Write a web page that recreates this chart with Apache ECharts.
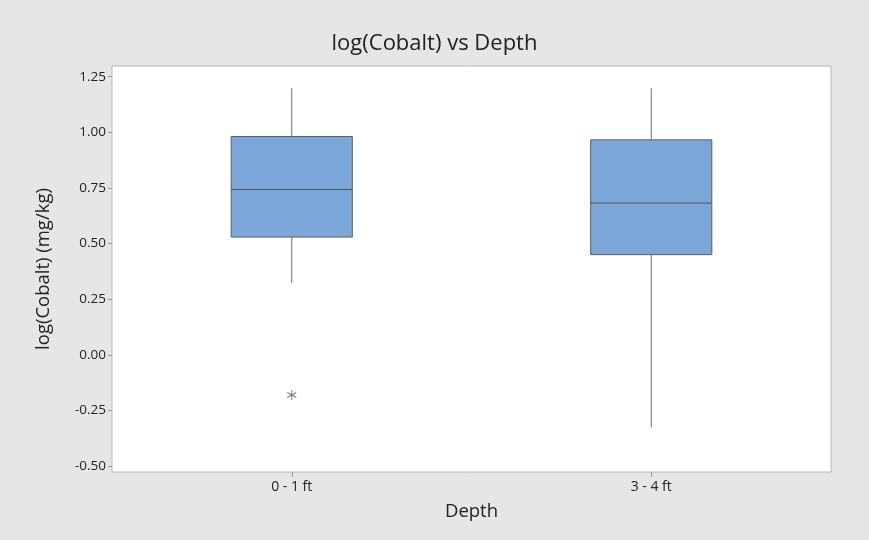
<!DOCTYPE html>
<html>
<head>
<meta charset="utf-8">
<script src="https://cdn.jsdelivr.net/npm/echarts@6/dist/echarts.min.js"></script>
<style>
html,body{margin:0;padding:0;background:#e6e6e6;}
#chart{width:869px;height:540px;}
</style>
</head>
<body>
<div id="chart"></div>
<script>
var categories = ['0 - 1 ft', '3 - 4 ft'];
var whiskerLow = [0.323, -0.327];
var q1 = [0.529, 0.450];
var median = [0.743, 0.682];
var q3 = [0.981, 0.966];
var whiskerHigh = [1.198, 1.198];
var outliers = [['0 - 1 ft', -0.181]];
var yTicks = [-0.5, -0.25, 0, 0.25, 0.5, 0.75, 1.0, 1.25];

var FONT = "'Open Sans', sans-serif";
var boxData = categories.map(function (c, i) {
  return [i, whiskerLow[i], q1[i], median[i], q3[i], whiskerHigh[i]];
});

var chart = echarts.init(document.getElementById('chart'), null, {renderer: 'canvas'});
chart.setOption({
  backgroundColor: '#e6e6e6',
  animation: false,
  title: {
    text: 'log(Cobalt) vs Depth',
    left: 'center',
    top: 28,
    textStyle: {fontFamily: FONT, fontSize: 22, fontWeight: 'normal', color: '#222'}
  },
  grid: {
    left: 112, top: 66, right: 38, bottom: 68,
    show: true, backgroundColor: '#ffffff', borderColor: '#b8b8b8', borderWidth: 1
  },
  xAxis: {
    type: 'category',
    data: categories,
    name: 'Depth',
    nameLocation: 'middle',
    nameGap: 30,
    nameTextStyle: {fontFamily: FONT, fontSize: 18.5, color: '#222'},
    axisLine: {show: false, onZero: false},
    axisTick: {show: true, alignWithLabel: true, length: 5, lineStyle: {color: '#999'}},
    axisLabel: {fontFamily: FONT, fontSize: 14, color: '#222', margin: 8},
    splitLine: {show: false}
  },
  yAxis: {
    type: 'value',
    min: -0.527,
    max: 1.298,
    name: 'log(Cobalt) (mg/kg)',
    nameLocation: 'middle',
    nameGap: 59,
    nameTextStyle: {fontFamily: FONT, fontSize: 18.5, color: '#222'},
    axisLine: {show: false, onZero: false},
    axisTick: {show: true, length: 4, lineStyle: {color: '#999'}, customValues: yTicks},
    axisLabel: {
      fontFamily: FONT, fontSize: 13.5, color: '#222', margin: 6,
      customValues: yTicks,
      formatter: function (v) { return v.toFixed(2); }
    },
    splitLine: {show: false}
  },
  series: [
    {
      type: 'custom',
      data: boxData,
      renderItem: function (params, api) {
        var idx = api.value(0);
        var pLow = api.coord([idx, api.value(1)]);
        var pQ1 = api.coord([idx, api.value(2)]);
        var pMed = api.coord([idx, api.value(3)]);
        var pQ3 = api.coord([idx, api.value(4)]);
        var pHigh = api.coord([idx, api.value(5)]);
        var bw = api.size([1, 0])[0] * 0.337;
        var x = pQ1[0];
        var wStyle = {stroke: '#6e6e6e', lineWidth: 1};
        return {
          type: 'group',
          children: [
            {type: 'line', shape: {x1: x, y1: pHigh[1], x2: x, y2: pQ3[1]}, style: wStyle},
            {type: 'line', shape: {x1: x, y1: pQ1[1], x2: x, y2: pLow[1]}, style: wStyle},
            {type: 'rect', shape: {x: x - bw / 2, y: pQ3[1], width: bw, height: pQ1[1] - pQ3[1]},
              style: {fill: '#7ba7d8', stroke: '#55606c', lineWidth: 1}},
            {type: 'line', shape: {x1: x - bw / 2, y1: pMed[1], x2: x + bw / 2, y2: pMed[1]},
              style: {stroke: '#4a5663', lineWidth: 1}}
          ]
        };
      }
    },
    {
      type: 'scatter',
      data: outliers,
      symbol: 'path://M0,-5L0,5M-4.3,-2.5L4.3,2.5M-4.3,2.5L4.3,-2.5',
      symbolSize: [9, 10],
      itemStyle: {color: 'rgba(0,0,0,0)', borderColor: '#555', borderWidth: 1}
    }
  ]
});
</script>
</body>
</html>
